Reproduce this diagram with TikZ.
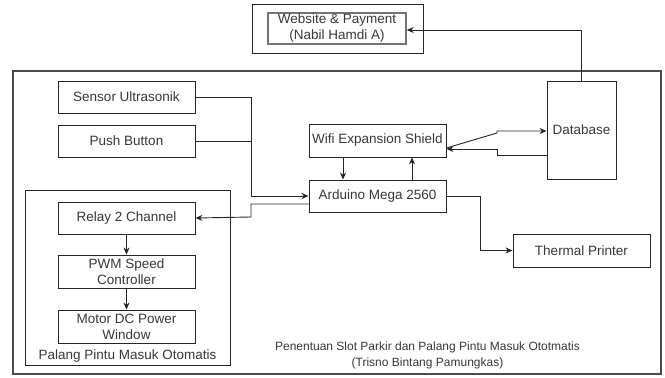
\documentclass[tikz,border=0pt]{standalone}
\usepackage{fontspec}
\setmainfont{Liberation Sans}
\usetikzlibrary{arrows.meta}
\begin{document}
\begin{tikzpicture}[x=1pt,y=-1pt,
  box/.style={draw=black!85,line width=0.9pt,rectangle,inner sep=0pt,align=center,
    font=\fontsize{13.5}{16}\selectfont,text=black!78},
  frame/.style={draw=black!70,line width=1.2pt},
  wire/.style={draw=black!85,line width=0.9pt},
  arr/.style={wire,-{Stealth[length=7pt,width=6pt]}},
  lbl/.style={font=\fontsize{13.5}{16}\selectfont,text=black!78,inner sep=0pt},
  caption/.style={font=\fontsize{12}{16}\selectfont,text=black!78,inner sep=0pt,align=center}]
\useasboundingbox (0,0) rectangle (665,378);

% outer frames
\draw[frame] (13,71) rectangle (661,374);
\draw[wire] (252,4) rectangle (423,53);
\draw[wire] (25,190) rectangle (230,365);

% web service box
\node[box,draw=black!55,line width=1.4pt,minimum width=138pt,minimum height=31pt] (web) at (337,28.5) {Website \& Payment\\(Nabil Hamdi A)};

% inputs
\node[box,minimum width=137pt,minimum height=32pt] (sensor) at (126.5,97) {Sensor Ultrasonik};
\node[box,minimum width=137pt,minimum height=32pt] (push) at (126.5,141) {Push Button};

% controller and network
\node[box,minimum width=137pt,minimum height=33pt] (wifi) at (377.5,140.5) {Wifi Expansion Shield};
\node[box,minimum width=137pt,minimum height=32pt] (mega) at (377.5,196) {Arduino Mega 2560};
\node[box,minimum width=69pt,minimum height=98pt] (db) at (581.5,130) {Database};
\node[box,minimum width=137pt,minimum height=33pt] (printer) at (581.5,250.5) {Thermal Printer};

% gate actuator chain
\node[box,minimum width=137pt,minimum height=32pt] (relay) at (126.5,218) {Relay 2 Channel};
\node[box,minimum width=137pt,minimum height=33pt] (pwm) at (126.5,271.5) {PWM Speed\\Controller};
\node[box,minimum width=137pt,minimum height=33pt] (motor) at (126.5,326.5) {Motor DC Power\\Window};
\node[lbl] (gate) at (127.5,356) {Palang Pintu Masuk Otomatis};

% captions
\node[caption] (cap) at (427.5,355) {Penentuan Slot Parkir dan Palang Pintu Masuk Ototmatis\\(Trisno Bintang Pamungkas)};

% wiring
\coordinate (j1) at (251,97);
\draw[arr] (sensor.east) -- (j1) |- (mega.west);
\draw[wire] (push.east) -- (push.east -| j1);
\draw[arr] ([yshift=-8pt]mega.west) -| (251,217) -- (relay.east);
\draw[arr] (relay.south) -- (pwm.north);
\draw[arr] (pwm.south) -- (motor.north);
\draw[arr] ([xshift=-34.5pt]wifi.south) -- ([xshift=-34.5pt]mega.north);
\draw[arr] ([xshift=34.5pt]mega.north) -- ([xshift=34.5pt]wifi.south);
\draw[arr] ([yshift=-7.5pt]wifi.east) -- (497,133) -- (497,131) -- (db.west |- 0,131);
\draw[arr] (db.west |- 0,155) -- (497,155) -- (497,149) -- (wifi.east |- 0,149);
\draw[arr] (mega.east) -| (480,250.5) -- (printer.west);
\draw[arr] (db.north) -- (581.5,30) -- (web.east |- 0,30);
\end{tikzpicture}
\end{document}
